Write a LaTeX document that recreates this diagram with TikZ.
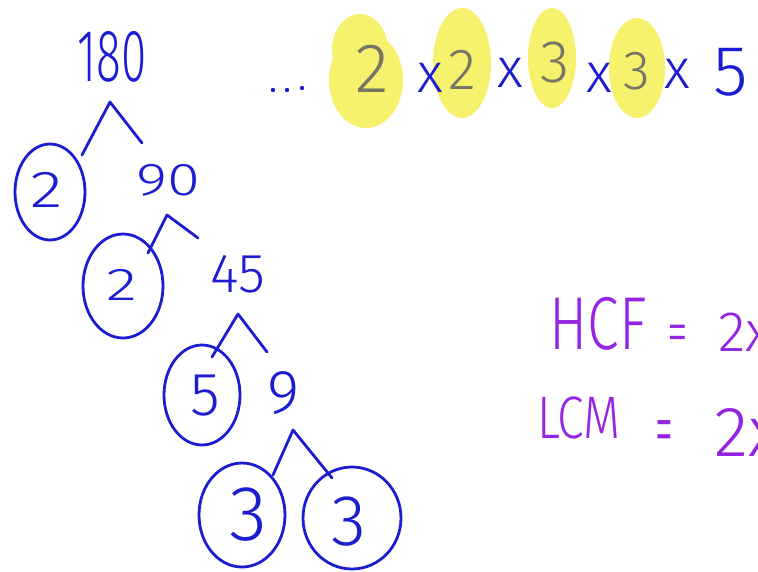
\documentclass[tikz,border=0pt]{standalone}
\usepackage{fontspec}
\usepackage{graphicx}
\newfontfamily\hand{Fira Sans Light}
\definecolor{ink}{RGB}{28,28,208}
\definecolor{plum}{RGB}{148,36,226}
\definecolor{marker}{RGB}{246,242,110}
\definecolor{lead}{RGB}{118,118,100}
\newcommand\squeeze[2]{\scalebox{#1}[1]{#2}}
\tikzset{
  pen/.style={line width=2.8pt, line cap=round, line join=round},
  ring/.style={pen, draw=ink},
  twig/.style={pen, draw=ink},
  hw/.style={inner sep=0pt, text=ink, font=\hand\fontsize{#1}{#1}\selectfont},
  hilite/.style={fill=marker, draw=none},
}
\begin{document}
\begin{tikzpicture}[x=1pt,y=-1pt]
\useasboundingbox (0,0) rectangle (758,571);
\fill[white] (0,0) rectangle (758,571);
\clip (0,0) rectangle (758,571);

% ---- factor tree of 180 ----
\node[hw=74] (n180) at (112,57) {\squeeze{0.62}{180}};
\coordinate (t180) at (110,102);
\coordinate (l180) at (82,155);
\coordinate (r180) at (142,143);
\draw[twig] (l180) -- (t180) -- (r180);

\draw[ring] (50,192) ellipse [x radius=35, y radius=48];
\node[hw=52] (p2a) at (47,190) {\squeeze{1.3}{2}};

\node[hw=46] (n90) at (168,180) {\squeeze{1.3}{90}};
\coordinate (t90) at (167,215);
\coordinate (l90) at (148,253);
\coordinate (r90) at (198,238);
\draw[twig] (l90) -- (t90) -- (r90);

\draw[ring] (123,286) ellipse [x radius=40, y radius=52];
\node[hw=46] (p2b) at (122,285) {\squeeze{1.4}{2}};

\node[hw=55] (n45) at (238,274) {45};
\coordinate (t45) at (238,314);
\coordinate (l45) at (212,357);
\coordinate (r45) at (267,352);
\draw[twig] (l45) -- (t45) -- (r45);

\draw[ring] (202,395) ellipse [x radius=38, y radius=50];
\node[hw=61] (p5) at (205,396) {5};

\node[hw=62] (n9) at (284,393) {9};
\coordinate (t9) at (293,430);
\coordinate (l9) at (273,475);
\coordinate (r9) at (332,478);
\draw[twig] (l9) -- (t9) -- (r9);

\draw[ring] (242,515) ellipse [x radius=43, y radius=52];
\node[hw=78] (p3a) at (248,515) {3};
\draw[ring] (352,518) ellipse [x radius=49, y radius=51];
\node[hw=72] (p3b) at (349,522) {3};

% ---- product of primes, shared factors highlighted ----
\fill[ink] (273,90) circle (2.2) (287,90) circle (2.2) (302,88) circle (2.2);

\fill[hilite] (366,80) ellipse [x radius=37, y radius=48];
\fill[hilite] (360,50) ellipse [x radius=28, y radius=36];
\fill[hilite] (462,63) ellipse [x radius=29, y radius=55];
\fill[hilite] (552,58) ellipse [x radius=24, y radius=50];
\fill[hilite] (637,68) ellipse [x radius=28, y radius=50];

\node[hw=70, text=lead] (f1) at (372,69) {2};
\node[hw=56] (x1) at (430,78) {x};
\node[hw=58, text=lead] (f2) at (462,70) {2};
\node[hw=56] (x2) at (510,73) {x};
\node[hw=60, text=lead] (f3) at (555,63) {3};
\node[hw=56] (x3) at (599,78) {x};
\node[hw=55, text=lead] (f4) at (637,71) {3};
\node[hw=56] (x4) at (677,74) {x};
\node[hw=71] (f5) at (731,72) {5};

% ---- HCF and LCM ----
\node[hw=75, text=plum] (hcf) at (598,324) {\squeeze{0.76}{HCF}};
\node[hw=58, text=plum] (eq1) at (678,339) {\scalebox{0.72}[1.1]{=}};
\node[hw=57, text=plum, anchor=west] (h2) at (718,332) {2x};

\node[hw=60, text=plum] (lcm) at (579,418) {\squeeze{0.8}{LCM}};
\node[hw=60, text=plum] (eq2) at (664,439) {\scalebox{0.6}[1.35]{=}};
\node[hw=71, text=plum, anchor=west] (l2) at (714,432) {2x};
\end{tikzpicture}
\end{document}
